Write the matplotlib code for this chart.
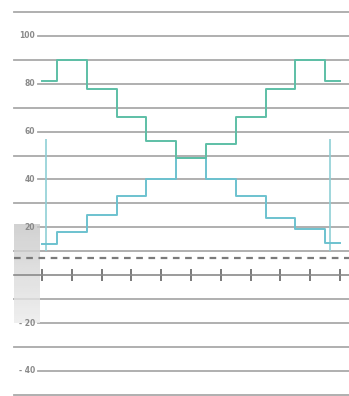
import numpy as np
import matplotlib
matplotlib.use("Agg")
import matplotlib.pyplot as plt

# ---- data ----
x_pos = [0, 1, 2, 3, 4, 5, 6, 7, 8, 9, 10]
upper_vals = [81, 90, 78, 66, 56, 49, 55, 66, 78, 90, 81]
lower_vals = [13, 18, 25, 33, 40, 49, 40, 33, 24, 19.5, 13.5]
drop_x = [0.12, 9.68]
drop_top = [57, 57]
drop_bottom = [10, 10]
ref_level = 7
major_labels = [100, 80, 60, 40, 20, -20, -40]
minor_levels = [110, 90, 70, 50, 30, 10, -10, -30, -50]
x_ticks = [0, 1, 2, 3, 4, 5, 6, 7, 8, 9, 10]

W, H = 349, 396
fig = plt.figure(figsize=(W / 100, H / 100), dpi=100)
ax = fig.add_axes([0, 0, 1, 1])
x0px, dx = 42.0, 29.8
ax.set_xlim(-x0px / dx, (W - x0px) / dx)
ax.set_ylim(-50.5, 115)
for s in ["top", "right", "left"]:
    ax.spines[s].set_visible(False)
ax.set_yticks([])

grid_c = "#a9a9a9"
for v in minor_levels:
    ax.axhline(v, xmin=14 / W, xmax=1, color=grid_c, lw=1.3, zorder=1)
for v in major_labels:
    ax.axhline(v, xmin=38 / W, xmax=1, color=grid_c, lw=1.3, zorder=1)
    ax.text(35 / W, v, str(v).replace("-", "- "), transform=ax.get_yaxis_transform(),
            ha="right", va="center", fontsize=5.5, color="#8a8a8a", fontweight="bold")

# gray blob on the left
grad = np.linspace(0.78, 0.92, 50).reshape(-1, 1)
ax.imshow(grad, cmap="gray", vmin=0, vmax=1, aspect="auto",
          extent=(-0.93, -0.08, -20, 21), zorder=2, alpha=0.8)

# zero axis with ticks
ax.spines["bottom"].set_position(("data", 0))
ax.spines["bottom"].set_bounds(-0.94, 10.3)
ax.spines["bottom"].set_color("#8a8a8a")
ax.spines["bottom"].set_linewidth(1.2)
ax.set_xticks(x_ticks)
ax.set_xticklabels([])
ax.tick_params(axis="x", direction="inout", length=8, width=1.3, color="#707070")

# dashed reference line
ax.axhline(ref_level, xmin=14 / W, color="#7a7a7a", lw=1.6, ls=(0, (3, 2.5)), zorder=2)

# drop lines
ax.vlines(drop_x, drop_bottom, drop_top, colors="#8fcfd6", lw=1.2, zorder=3)

# step series
ax.step(x_pos, lower_vals, where="mid", color="#6cc2cf", lw=1.4, zorder=4)
ax.step(x_pos, upper_vals, where="mid", color="#5dbfa6", lw=1.4, zorder=5)

fig.savefig("out.png", dpi=100, facecolor="white")
